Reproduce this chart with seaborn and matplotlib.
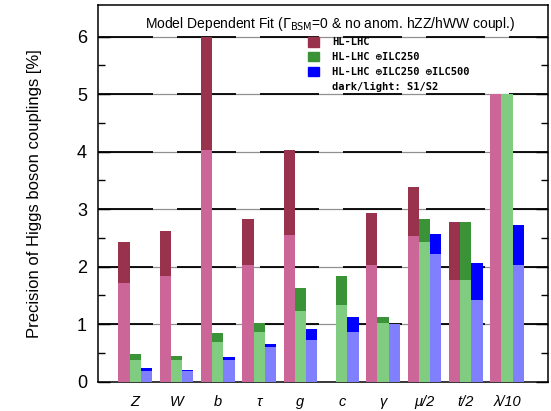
import numpy as np
import pandas as pd
import matplotlib
matplotlib.use("Agg")
import matplotlib.pyplot as plt
from matplotlib.patches import Patch
from matplotlib.transforms import blended_transform_factory
import seaborn as sns

# coupling labels (x axis)
params = ["Z", "W", "b", "τ", "g", "c", "γ", "μ/2", "t/2", "λ/10"]
scenarios = ["HL-LHC", "HL-LHC ⊕ILC250", "HL-LHC ⊕ILC250 ⊕ILC500"]

# dark = S1, light = S2 (precision in %)
hl_s1 = [2.42, 2.62, 6.00, 2.83, 4.02, np.nan, 2.94, 3.38, 2.77, 5.00]
hl_s2 = [1.72, 1.83, 4.02, 2.03, 2.54, np.nan, 2.03, 2.53, 1.77, 5.00]
ilc250_s1 = [0.48, 0.45, 0.84, 1.01, 1.62, 1.83, 1.12, 2.82, 2.77, 5.00]
ilc250_s2 = [0.37, 0.37, 0.69, 0.86, 1.22, 1.33, 1.01, 2.42, 1.77, 5.00]
ilc500_s1 = [0.23, 0.20, 0.42, 0.66, 0.92, 1.12, 1.00, 2.56, 2.06, 2.73]
ilc500_s2 = [0.19, 0.19, 0.37, 0.60, 0.72, 0.86, 1.00, 2.21, 1.41, 2.03]

dark_colors = ["#99334d", "#3a9337", "#0000ff"]
light_colors = ["#cc6699", "#80cc80", "#8080ff"]

rows = []
for sc, s1, s2 in zip(scenarios, [hl_s1, ilc250_s1, ilc500_s1], [hl_s2, ilc250_s2, ilc500_s2]):
    for p, a, b in zip(params, s1, s2):
        rows.append({"param": p, "scenario": sc, "s1": a, "s2": b})
df = pd.DataFrame(rows)

plt.rcParams["font.family"] = ["Liberation Sans", "DejaVu Sans"]
plt.rcParams["lines.scale_dashes"] = False

fig = plt.figure(figsize=(5.51, 4.11), dpi=100)
ax = fig.add_axes([98 / 551, (411 - 381.5) / 411, 450 / 551, 376.5 / 411])

# grid lines: solid dashes with dotted gaps
px = 0.72
for y in range(1, 7):
    ax.axhline(y, color="#222222", lw=0.9, ls=(0, (1 * px, 1 * px)), zorder=0.5)
    ax.axhline(y, color="black", lw=1.3, ls=(4 * px, (59 * px, 24 * px)), zorder=0.6)

sns.barplot(data=df, x="param", y="s1", hue="scenario", order=params, hue_order=scenarios,
            palette=dark_colors, saturation=1, width=0.82, errorbar=None, legend=False,
            linewidth=0, ax=ax, zorder=2)
sns.barplot(data=df, x="param", y="s2", hue="scenario", order=params, hue_order=scenarios,
            palette=light_colors, saturation=1, width=0.82, errorbar=None, legend=False,
            linewidth=0, ax=ax, zorder=3)

ax.set_xlim(-0.9, 9.99)
ax.set_ylim(0, 6.55)
ax.set_yticks(range(7))
ax.set_yticks(np.arange(0.5, 6.5, 1.0), minor=True)
ax.tick_params(axis="y", which="major", direction="in", length=8.6, width=1, right=True,
               labelsize=13, pad=8)
ax.tick_params(axis="y", which="minor", direction="in", length=5, width=1, right=True)
ax.tick_params(axis="x", length=0, pad=10)
for lab in ax.get_xticklabels():
    lab.set_fontstyle("italic")
    lab.set_fontsize(10.5)
for s in ax.spines.values():
    s.set_linewidth(1.1)

ax.set_xlabel("")
ax.set_ylabel("Precision of Higgs boson couplings [%]", fontsize=12)
ax.yaxis.set_label_coords(-0.124, 0.5)

ax.text(0.515, 6.15, r"Model Dependent Fit ($\Gamma_{\rm BSM}$=0 & no anom. hZZ/hWW coupl.)",
        transform=blended_transform_factory(ax.transAxes, ax.transData), fontsize=10,
        ha="center", va="baseline")

handles = [Patch(color=c) for c in dark_colors] + [Patch(color="none")]
labels = scenarios + ["dark/light: S1/S2"]
ax.legend(handles, labels, loc="upper left", bbox_to_anchor=(308 / 551, 1 - 37 / 411),
          bbox_transform=fig.transFigure, frameon=False, borderpad=0, borderaxespad=0,
          handlelength=1.05, handleheight=1.05, handletextpad=1.25, labelspacing=0.42,
          prop={"family": ["DejaVu Sans Mono", "DejaVu Sans"], "weight": "bold", "size": 7.5})

fig.savefig("out.png", dpi=100)
